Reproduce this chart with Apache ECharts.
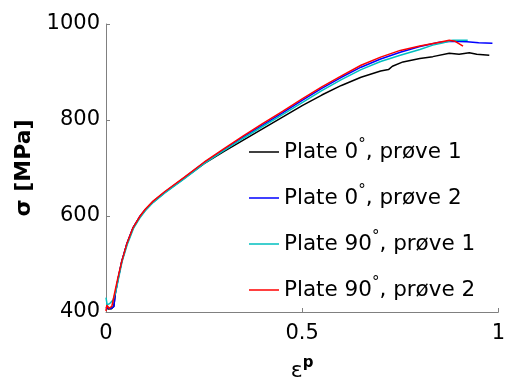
<!DOCTYPE html>
<html>
<head>
<meta charset="utf-8">
<script src="https://cdn.jsdelivr.net/npm/echarts@6/dist/echarts.min.js"></script>
<style>html,body{margin:0;padding:0;background:#fff}#c{width:508px;height:387px}</style>
</head>
<body>
<div id="c"></div>
<script>
var seriesNames = ['Plate 0°, prøve 1', 'Plate 0°, prøve 2', 'Plate 90°, prøve 1', 'Plate 90°, prøve 2'];
var xTicks = [0, 0.5, 1];
var yTicks = [400, 600, 800, 1000];

var plate0_1 = [[0,410],[0.006,406],[0.014,407],[0.02,412],[0.024,440],[0.031,470],[0.04,505],[0.053,541],[0.069,575],[0.087,599],[0.1,612],[0.12,629],[0.15,649],[0.2,679],[0.25,709],[0.3,734],[0.35,758],[0.4,782],[0.45,806],[0.5,830],[0.55,852],[0.6,872],[0.65,889],[0.7,902],[0.72,905],[0.73,912],[0.757,921],[0.8,928],[0.833,932],[0.875,939],[0.9,937],[0.926,940],[0.945,937],[0.977,935]];
var plate0_2 = [[0,405],[0.005,410],[0.012,407],[0.02,411],[0.024,440],[0.031,470],[0.04,505],[0.053,542],[0.069,576],[0.087,600],[0.1,613],[0.12,630],[0.15,650],[0.2,680],[0.25,711],[0.3,738],[0.35,765],[0.4,790],[0.45,815],[0.5,841],[0.55,866],[0.6,889],[0.65,910],[0.7,927],[0.75,941],[0.8,953],[0.85,962],[0.88,964],[0.92,963],[0.95,961],[0.985,960]];
var plate90_1 = [[0,430],[0.003,415],[0.01,418],[0.018,425],[0.025,442],[0.032,470],[0.041,505],[0.054,540],[0.07,574],[0.088,598],[0.1,611],[0.12,628],[0.15,648],[0.2,678],[0.25,709],[0.3,736],[0.35,762],[0.4,787],[0.45,811],[0.5,836],[0.55,861],[0.6,884],[0.65,905],[0.7,922],[0.75,935],[0.8,947],[0.833,956],[0.86,961],[0.884,966],[0.922,966]];
var plate90_2 = [[0,402],[0.002,414],[0.008,408],[0.015,412],[0.022,440],[0.03,470],[0.04,505],[0.053,542],[0.069,576],[0.087,600],[0.1,614],[0.12,631],[0.15,651],[0.2,681],[0.25,712],[0.3,740],[0.35,767],[0.4,793],[0.45,818],[0.5,844],[0.55,869],[0.6,892],[0.65,914],[0.7,931],[0.75,945],[0.8,954],[0.85,962],[0.875,966],[0.89,964],[0.91,954]];

var colors = ['#000000', '#0000ff', '#00bfbf', '#ff0000'];
var datasets = [plate0_1, plate0_2, plate90_1, plate90_2];
var FONT = 'DejaVu Sans';

var chart = echarts.init(document.getElementById('c'));
chart.setOption({
  animation: false,
  backgroundColor: '#fff',
  grid: {left: 106, right: 9, top: 24, bottom: 67},
  xAxis: {
    type: 'value', min: xTicks[0], max: xTicks[xTicks.length-1], interval: 0.5,
    axisLine: {show: true, onZero: false, lineStyle: {color: '#808080', width: 1}},
    axisTick: {show: true, inside: true, length: 4, lineStyle: {color: '#808080'}},
    splitLine: {show: false},
    axisLabel: {fontFamily: FONT, fontSize: 21, color: '#000', margin: 11,
      formatter: function (v) { return String(v); }},
    name: '{e|ε}{p|p}', nameLocation: 'middle', nameGap: 44,
    nameTextStyle: {rich: {
      e: {fontFamily: FONT, fontSize: 22, color: '#000', verticalAlign: 'bottom', lineHeight: 26},
      p: {fontFamily: FONT, fontSize: 15, fontWeight: 'bold', color: '#000', verticalAlign: 'top', lineHeight: 26}
    }}
  },
  yAxis: {
    type: 'value', min: yTicks[0], max: yTicks[yTicks.length-1], interval: 200,
    axisLine: {show: true, lineStyle: {color: '#808080', width: 1}},
    axisTick: {show: true, inside: true, length: 4, lineStyle: {color: '#808080'}},
    splitLine: {show: false},
    axisLabel: {fontFamily: FONT, fontSize: 21, color: '#000', margin: 6,
      formatter: function (v) { return String(v); }},
    name: 'σ [MPa]', nameLocation: 'middle', nameGap: 61,
    nameTextStyle: {fontFamily: FONT, fontSize: 22, fontWeight: 'bold', color: '#000'}
  },
  legend: {
    orient: 'vertical', left: 249, top: 138, itemGap: 18, padding: 0,
    icon: 'rect', itemWidth: 30, itemHeight: 1.5,
    data: seriesNames,
    formatter: function (name) {
      var i = name.indexOf('°');
      return name.slice(0, i) + '{d|°}' + name.slice(i + 1);
    },
    textStyle: {fontFamily: FONT, fontSize: 21.5, color: '#000', lineHeight: 28,
      rich: {d: {fontFamily: FONT, fontSize: 15, color: '#000', verticalAlign: 'top', lineHeight: 12}}}
  },
  series: datasets.map(function (d, i) {
    return {name: seriesNames[i], type: 'line', data: d, showSymbol: false, symbol: 'none',
      lineStyle: {color: colors[i], width: 1.5}, itemStyle: {color: colors[i]}};
  })
});
</script>
</body>
</html>
